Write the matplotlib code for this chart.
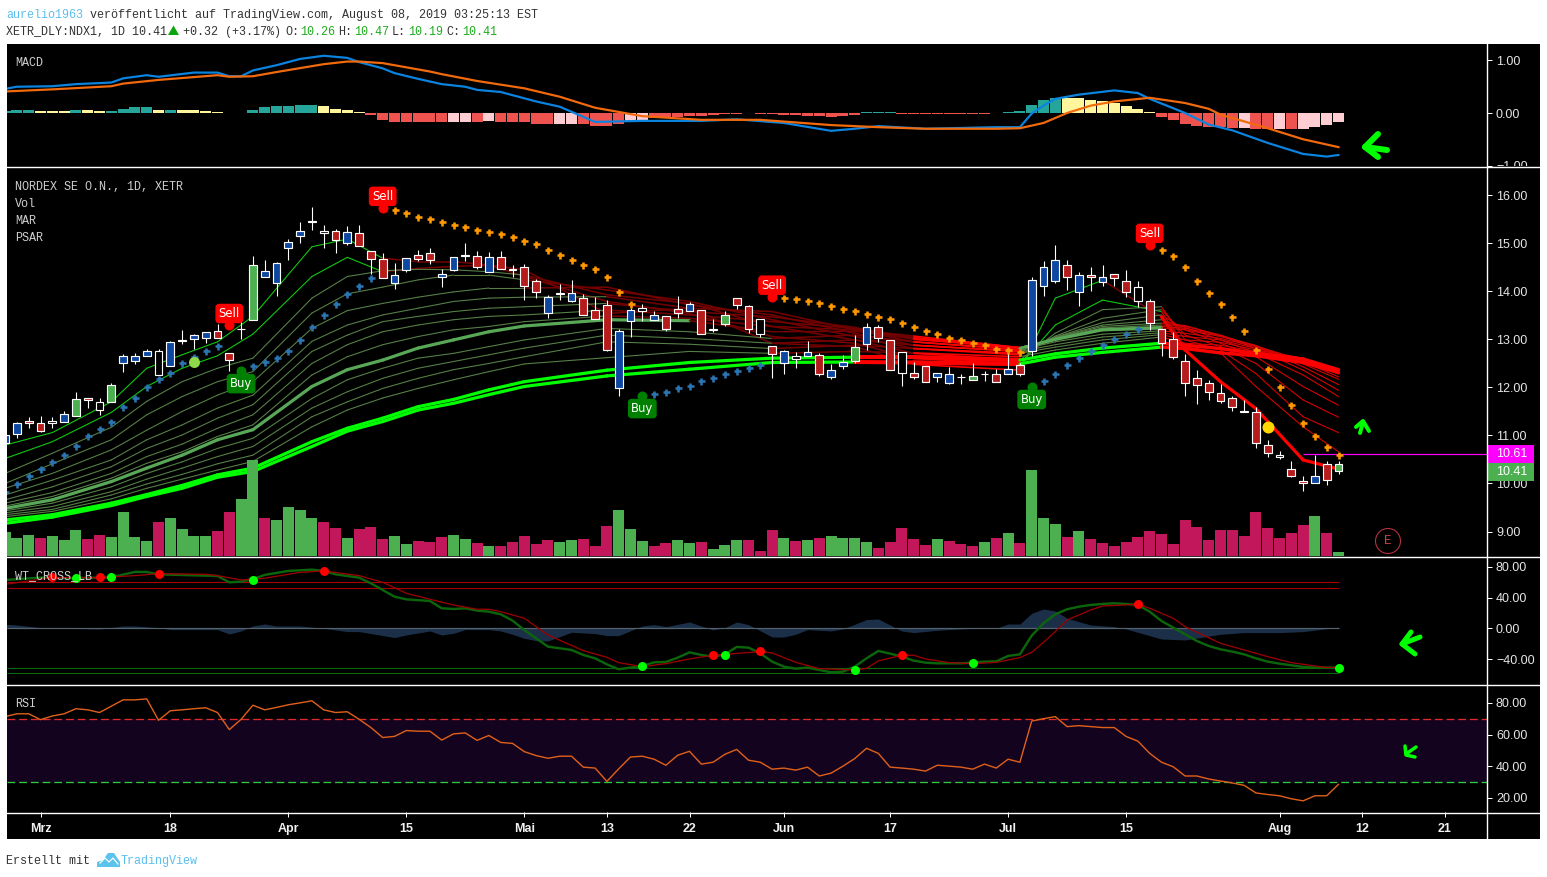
import numpy as np
import matplotlib
matplotlib.use('Agg')
import matplotlib.pyplot as plt
from matplotlib.patches import Circle, Polygon, Rectangle
from matplotlib.transforms import Bbox

W, H = 1547, 877

# first bar on the chart is index -3, "Mrz" tick is index 0
bars = list(range(-3, 111))

candle_top = [11.02,11.25,11.31,11.27,11.31,11.44,11.75,11.79,11.69,12.06,
              12.65,12.65,12.75,12.75,12.94,12.99,13.09,13.15,13.17,12.71,
              13.22,14.56,14.42,14.59,15.02,15.25,15.46,15.25,15.25,15.23,
              15.21,14.84,14.67,14.34,14.69,14.75,14.81,14.36,14.71,14.75,
              14.73,14.71,14.71,14.46,14.50,14.21,13.88,13.97,13.96,13.86,
              13.61,13.71,13.17,13.61,13.65,13.50,13.48,13.63,13.73,13.61,
              13.21,13.50,13.86,13.69,13.42,12.86,12.75,12.65,12.73,12.67,
              12.36,12.54,12.84,13.25,13.25,12.98,12.73,12.31,12.44,12.31,
              12.27,12.22,12.23,12.29,12.29,12.38,12.46,14.23,14.50,14.65,
              14.54,14.34,14.34,14.29,14.36,14.21,14.09,13.79,13.21,13.00,
              12.56,12.19,12.09,11.88,11.77,11.50,11.48,10.81,10.59,10.31,
              10.06,10.15,10.40,10.40]
candle_bot = [10.85,11.04,11.25,11.10,11.25,11.29,11.41,11.73,11.54,11.69,
              12.50,12.56,12.65,12.25,12.45,12.97,13.00,13.04,13.04,12.58,
              13.21,13.40,14.31,14.18,14.91,15.16,15.45,15.21,15.08,15.00,
              14.94,14.67,14.27,14.17,14.45,14.68,14.66,14.29,14.45,14.74,
              14.50,14.41,14.46,14.44,14.12,13.99,13.56,13.95,13.79,13.50,
              13.43,12.79,11.99,13.39,13.60,13.41,13.22,13.56,13.60,13.12,
              13.19,13.33,13.72,13.22,13.12,12.70,12.50,12.60,12.66,12.27,
              12.22,12.45,12.56,12.91,13.04,12.36,12.31,12.22,12.12,12.21,
              12.10,12.21,12.16,12.27,12.12,12.29,12.27,12.75,14.12,14.22,
              14.29,13.99,14.29,14.20,14.27,13.99,13.81,13.35,12.93,12.64,
              12.10,12.06,11.91,11.72,11.60,11.48,10.85,10.64,10.56,10.16,
              10.02,10.00,10.08,10.25]
wick_hi = [11.04,11.28,11.39,11.40,11.39,11.50,11.91,11.79,11.77,12.09,
           12.70,12.72,12.80,12.80,12.96,13.20,13.11,13.15,13.32,12.71,
           13.63,14.74,14.66,14.61,15.09,15.45,15.76,15.38,15.29,15.36,
           15.38,14.84,14.79,14.59,14.69,14.86,14.90,14.47,14.71,15.01,
           14.84,14.82,14.84,14.56,14.57,14.26,13.93,14.15,14.24,13.94,
           13.88,13.82,13.22,13.65,13.73,13.59,13.48,13.91,13.77,13.61,
           13.43,13.59,13.86,13.72,13.42,12.86,12.78,12.74,12.97,12.72,
           12.49,12.67,13.09,13.34,13.31,12.98,12.73,12.53,12.44,12.31,
           12.43,12.28,12.51,12.34,12.38,12.72,12.50,14.30,14.63,14.97,
           14.66,14.40,14.51,14.55,14.36,14.45,14.22,13.84,13.21,13.15,
           12.70,12.36,12.15,12.07,11.82,11.74,11.59,10.90,10.68,10.47,
           10.15,10.59,10.47,10.47]
wick_lo = [10.77,10.95,11.16,11.07,11.16,11.29,11.41,11.57,11.43,11.69,
           12.32,12.49,12.65,12.25,12.45,12.91,12.80,12.93,13.04,12.35,
           13.00,13.40,14.29,13.91,14.66,15.00,15.28,14.91,14.81,14.97,
           14.94,14.36,14.27,14.06,14.41,14.64,14.58,14.10,14.43,14.63,
           14.47,14.41,14.46,14.29,13.83,13.86,13.45,13.83,13.77,13.50,
           13.43,12.76,11.83,13.06,13.39,13.41,13.17,13.45,13.60,13.12,
           13.16,13.29,13.63,13.14,13.06,12.20,12.28,12.40,12.66,12.24,
           12.18,12.38,12.50,12.79,12.95,12.36,12.03,12.18,12.12,12.11,
           12.07,12.07,12.16,12.13,12.12,12.29,12.24,12.66,13.90,14.18,
           14.03,13.70,14.01,14.11,14.11,13.88,13.68,13.20,12.66,12.60,
           11.82,11.66,11.74,11.68,11.51,11.48,10.74,10.56,10.52,10.14,
           9.84,10.00,9.97,10.20]
candle_colour = ('bbrrkbgrkg' 'bbbkbkbbrr' 'kgbbbbkkrb' 'rrrbbrrbbk' 'rbrkrrbkbr'
                 'rrbbkbrrbr' 'kgrrkrbkbr' 'bbgbrrkrrb' 'bkgkrbrbbb' 'rbrbrrkrrr'
                 'rrrrrkrrkr' 'rbrg')

volume = [24,18,21,18,20,16,26,17,21,19,44,19,15,34,38,27,20,20,25,44,57,96,
          38,36,49,46,38,34,28,18,27,29,17,20,12,15,14,19,21,17,13,10,10,14,
          20,12,16,14,16,17,10,30,46,27,15,10,13,16,13,14,7,11,16,16,5,26,18,
          15,16,18,20,18,18,14,8,14,28,17,11,17,15,12,10,14,18,23,13,86,38,32,
          19,25,17,13,10,14,19,25,22,12,36,29,16,26,26,20,44,28,18,23,31,40,23,4]
volume_colour = ('gggrgggrrg' 'gggrggggrr' 'ggrggggrrg' 'rrrggrrrgg' 'rgrrrrrggr'
                 'rrgggrrggr' 'gggrrrgrgr' 'ggggrrrrrg' 'rrrgrgrggg' 'rgrrrrrrrr'
                 'rrrrrrrrrr' 'rgrg')

# moving average ribbon, read at these bars only
ma_bars = [-3,1,6,9,12,15,18,23,26,29,32,35,38,41,48,55,62,69,74,83,86,90,95,97,100,103,107,110]
ma01 = [10.80,11.06,11.70,12.40,12.68,12.95,13.48,14.93,15.09,14.69,14.62,14.62,14.55,14.45,13.54,13.65,12.92,12.85,12.48,12.36,13.86,14.23,13.47,12.78,12.12,11.56,10.49,10.30]
ma02 = [10.52,10.87,11.48,12.02,12.40,12.66,13.11,14.31,14.71,14.41,14.48,14.52,14.55,14.31,13.79,13.54,13.06,12.92,12.61,12.47,13.30,13.82,13.58,12.85,12.72,12.02,11.18,10.66]
ma03 = [10.21,10.63,11.17,11.71,12.12,12.40,12.61,13.86,14.31,14.43,14.46,14.45,14.41,14.34,13.93,13.75,13.27,12.99,12.71,12.57,13.13,13.62,13.68,12.99,12.78,12.29,11.39,11.06]
ma04 = [10.00,10.41,10.91,11.43,11.81,12.12,12.33,13.55,13.95,14.09,14.24,14.34,14.34,14.24,14.03,13.79,13.41,13.06,12.81,12.68,13.07,13.44,13.62,13.09,12.85,12.50,11.74,11.38]
ma05 = [9.90,10.21,10.70,11.11,11.50,11.84,12.12,13.23,13.60,13.75,13.88,13.99,14.07,14.07,14.09,13.72,13.51,13.13,12.88,12.75,13.05,13.35,13.51,13.20,12.92,12.64,12.02,11.63]
ma06 = [9.76,10.07,10.49,10.91,11.22,11.57,11.84,12.96,13.30,13.51,13.65,13.79,13.86,13.88,13.89,13.65,13.58,13.20,12.95,12.79,13.04,13.30,13.41,13.25,12.99,12.72,12.26,11.81]
ma07 = [9.66,9.93,10.35,10.73,11.01,11.36,11.64,12.75,13.09,13.37,13.48,13.58,13.65,13.68,13.75,13.58,13.47,13.25,13.00,12.83,13.03,13.27,13.34,13.29,13.08,12.81,12.36,11.94]
ma08 = [9.59,9.81,10.21,10.56,10.82,11.15,11.43,12.50,12.89,13.16,13.30,13.41,13.48,13.51,13.61,13.51,13.37,13.23,13.04,12.83,13.02,13.24,13.30,13.27,13.09,12.85,12.43,12.06]
ma09 = [9.53,9.73,10.11,10.42,10.66,10.98,11.22,12.26,12.64,12.89,13.06,13.20,13.27,13.37,13.49,13.44,13.27,13.20,13.07,12.83,13.02,13.22,13.27,13.23,13.08,12.87,12.49,12.17]
ma10 = [9.48,9.66,10.04,10.32,10.59,10.91,11.12,12.02,12.37,12.57,12.82,12.99,13.16,13.28,13.41,13.39,13.16,13.17,13.02,12.81,13.00,13.20,13.24,13.20,13.06,12.87,12.54,12.22]
ma11 = [9.43,9.59,9.93,10.21,10.45,10.73,10.94,11.77,12.16,12.40,12.61,12.71,12.85,12.99,13.23,13.16,13.02,13.09,12.95,12.78,12.95,13.11,13.18,13.13,13.02,12.85,12.57,12.28]
ma12 = [9.39,9.52,9.83,10.09,10.32,10.56,10.77,11.57,11.91,12.19,12.40,12.54,12.68,12.82,13.09,13.02,12.92,12.99,12.88,12.75,12.89,13.05,13.14,13.06,12.99,12.81,12.59,12.32]
ma13 = [9.35,9.46,9.76,9.99,10.19,10.41,10.59,11.39,11.70,11.98,12.19,12.37,12.50,12.64,12.95,12.90,12.81,12.88,12.81,12.71,12.84,12.99,13.10,12.99,12.94,12.78,12.61,12.36]
ma14 = [9.31,9.42,9.68,9.90,10.09,10.28,10.46,11.18,11.53,11.78,11.98,12.16,12.33,12.49,12.62,12.75,12.71,12.75,12.72,12.64,12.78,12.92,13.05,12.92,12.88,12.75,12.61,12.38]
ma15 = [9.24,9.35,9.59,9.77,9.96,10.18,10.32,10.87,11.15,11.36,11.60,11.75,11.95,12.12,12.36,12.52,12.61,12.63,12.63,12.57,12.70,12.82,12.92,12.88,12.81,12.71,12.59,12.37]
ma16 = [9.17,9.30,9.54,9.73,9.90,10.13,10.25,10.77,11.09,11.29,11.53,11.67,11.85,12.02,12.24,12.38,12.52,12.53,12.52,12.49,12.63,12.73,12.84,12.81,12.72,12.66,12.52,12.31]
ribbon = [ma01,ma02,ma03,ma04,ma05,ma06,ma07,ma08,ma09,ma10,ma11,ma12,ma13,ma14,ma15,ma16]

# parabolic sar
sar_up1 = [9.82,9.98,10.15,10.31,10.44,10.59,10.79,10.98,11.13,11.29,11.59,11.79,12.00,12.17,12.31,12.50,12.63,12.75,12.86]
sar_up2 = [12.44,12.52,12.61,12.75,12.98,13.25,13.50,13.73,13.94,14.11,14.27]
sar_dn1 = [15.69,15.63,15.56,15.50,15.44,15.38,15.34,15.27,15.23,15.19,15.13,15.06,14.98,14.86,14.75,14.65,14.54,14.46,14.29,13.98,13.73]
sar_up3 = [11.86,11.90,11.98,12.04,12.13,12.19,12.27,12.34,12.40,12.46]
sar_dn2 = [13.86,13.84,13.79,13.75,13.69,13.63,13.59,13.52,13.46,13.42,13.34,13.25,13.17,13.11,13.04,12.98,12.92,12.88,12.81,12.77,12.73]
sar_up4 = [12.13,12.29,12.46,12.61,12.75,12.88,13.00,13.12,13.22]
sar_dn3 = [14.86,14.73,14.50,14.21,13.96,13.73,13.46,13.17,12.79,12.38,12.00,11.63,11.27,10.98,10.75,10.59]

sell_bars = [16,29,62,94]
sell_price = [13.30,15.74,13.89,14.97]
buy_bars = [17,51,84]
buy_price = [12.34,11.82,12.01]

# macd
macd_bars = [-3,-2,1,3,6,7,9,10,13,15,16,17,18,20,22,24,26,27,29,30,32,34,36,37,39,42,44,47,51,56,59,63,67,69,71,75,81,83,84,85,86,88,91,93,94,97,99,101,104,107,109,110]
macd_line = [0.46,0.50,0.51,0.55,0.58,0.66,0.72,0.69,0.77,0.77,0.70,0.70,0.81,0.91,1.03,1.09,1.05,0.97,0.85,0.76,0.65,0.55,0.50,0.44,0.40,0.22,0.12,-0.17,-0.15,-0.15,-0.12,-0.19,-0.34,-0.30,-0.25,-0.30,-0.27,-0.27,-0.01,0.14,0.27,0.35,0.43,0.38,0.27,0.0,-0.22,-0.33,-0.57,-0.78,-0.83,-0.80]
signal_bars = [-3,1,6,7,10,15,16,18,20,24,26,27,29,33,34,37,41,44,47,51,56,61,67,71,75,81,83,85,87,89,91,94,97,99,100,104,107,110]
signal_line = [0.41,0.45,0.51,0.56,0.63,0.72,0.69,0.70,0.78,0.93,0.98,0.98,0.95,0.79,0.74,0.61,0.47,0.31,0.10,-0.06,-0.13,-0.13,-0.23,-0.27,-0.30,-0.30,-0.29,-0.19,0.0,0.14,0.22,0.29,0.19,0.08,-0.03,-0.29,-0.50,-0.65]
macd_hist = [0.04,0.06,0.06,0.04,0.04,0.04,0.06,0.06,0.04,0.04,0.08,0.11,0.11,0.06,0.06,0.06,0.06,0.04,0.02,0,0,
             0.06,0.11,0.13,0.14,0.16,0.16,0.14,0.08,0.06,0.01,-0.03,-0.13,-0.17,-0.17,-0.17,-0.17,-0.18,-0.18,-0.17,-0.17,
             -0.15,-0.17,-0.17,-0.18,-0.20,-0.20,-0.20,-0.20,-0.20,-0.25,-0.25,-0.20,-0.15,-0.15,-0.10,-0.10,-0.08,-0.06,-0.05,-0.03,
             -0.02,-0.01,0,-0.01,-0.02,-0.03,-0.04,-0.05,-0.06,-0.08,-0.06,-0.03,0.01,0.02,0.01,-0.01,-0.02,-0.02,-0.02,-0.02,-0.02,
             -0.02,-0.01,0,0.01,0.03,0.16,0.24,0.29,0.28,0.29,0.25,0.22,0.19,0.14,0.08,0.01,-0.07,-0.13,-0.20,-0.24,-0.26,-0.26,
             -0.28,-0.28,-0.30,-0.30,-0.30,-0.30,-0.30,-0.26,-0.22,-0.17]
hist_colour = ('tttyyytyyt' 'tttytyyyyy' 'yttttttyyy' 'yrrrrrrrpp' 'rprrrrrppr' 'rrrpprrrrr'
               'rrrrrrrrrr' 'rrrtttrrrr' 'rrrrrttttt' 'yyyyyyyyrr' 'rrrrrprrpr' 'pppp')

# wavetrend
wt1_bars = [-3,0,2,6,8,9,10,15,16,17,18,19,21,23,24,25,27,28,30,31,33,34,35,36,37,38] + list(range(39,111))
wt1 = [62.8,65.8,65,66.2,73.2,73.2,70,68,59.7,60.6,64,69.3,74.5,76.2,74.5,70.1,65.8,58.4,41.1,37.6,35.5,26,25.1,26,23,21.6,
       18.2,10,-2.2,-13,-23.8,-26,-28.1,-34.6,-39,-46.8,-53.2,-51,-48.9,-44.2,-43.7,-38.1,-31.2,-34.6,-36.8,-33.8,-24.2,-25.1,-32.5,
       -43.3,-49.8,-52.4,-51,-54.1,-57.1,-56.3,-49.8,-39,-29.4,-32.9,-36.8,-42,-44.6,-45.5,-45.5,-45.5,-44.6,-43.3,-42.9,-35.9,
       -33.8,-9.5,6.5,18.2,24.7,28.1,30.3,31.6,32.5,31.6,30.3,21.6,9.5,0.9,-7.8,-16.5,-22.9,-27.3,-30.3,-33.8,-39,-43.3,-45.9,-48,-50.2,-51,-51,-51]
wt2_bars = [-3,1,5,8,10,14,15,17,19,22,24,27,29,30,31,33,35,37,38,39,41,43,46,48,49,51,53,55,57,61,62,64,66,69,70,71,73,74,75,77,79,81,83,84,85,86,87,89,90,93,94,96,97,100,102,104,106,108,109,110]
wt2 = [57.1,65.8,65.8,68.4,71,70.1,68.4,62.8,65,72.7,74.5,68.4,59.7,52.8,45.5,37.7,30.3,24.7,24.7,21.6,13,-8.7,-29,-37.7,-44.6,-49.8,-45.9,-39.8,-35,-30.3,-32,-44.2,-52.4,-54.1,-52,-42.4,-35,-35,-39.8,-44.6,-45.9,-44.2,-38.1,-31.2,-18.2,-4.3,10.8,23.8,28.9,31.2,26,13,2.2,-19.5,-28.1,-36.8,-44.6,-48.9,-51,-50.6]
wt_diff_bars = [-3,-2,0,1,2,5,7,8,10,11,15,16,17,18,19,20,22,24,26,27,30,31,33,34,35,36,38,39,40,41,42,43,45,47,48,49,51,52,53,55,57,58,59,60,62,63,64,65,67,68,70,71,73,74,76,79,81,82,83,84,85,86,87,89,91,92,95,97,100,102,105,107,110]
wt_diff = [5.2,4.3,0.9,0,0,-0.9,3,3,0.9,-1.7,-1.7,-7.4,-3.5,3,5.6,3,3,0,-4.3,-4.3,-12,-8.7,-3.5,-8.7,-6.5,-1.7,-1.7,-3.5,-7.8,-13,-16,-16.5,-5.2,-6.9,-9.5,-9.5,3,4.8,2.2,8.2,-2.2,0.9,8.2,4.8,-11.3,-11.3,-7.8,-1.7,-3.5,-0.9,11.3,12.1,-3.5,-5.6,-2.6,0,0,5.6,5.6,19.5,25.1,22.5,13,4.3,2.2,-0.9,-13.9,-15.2,-7.8,-5.6,-5.6,-4.3,1.3]
wt_red_bars = [1,5,10,24,57,61,73,93]
wt_red_vals = [66,66,71,75,-35,-30,-35,31]
wt_green_bars = [3,6,18,51,58,69,79,110]
wt_green_vals = [65,66,63,-49,-35,-54.5,-45.5,-51]
wt_levels_red = [59.7,52]
wt_levels_green = [-52,-58.4]

rsi = [71.3,73.1,73.1,69.4,71.7,73.1,76.3,75.6,73.9,77.9,81.9,81.9,82.5,69.0,75.0,75.6,76.3,76.9,73.9,63.1,69.6,78.5,75.6,77.1,78.8,80.0,81.3,75.6,73.9,74.4,69.6,64.4,58.1,58.8,62.5,62.1,62.1,56.5,60.4,61.0,56.3,59.4,55.0,54.4,
       49.2,46.7,45.0,46.3,46.3,39.4,38.8,30.4,38.3,45.8,46.3,44.4,40.6,46.9,49.4,41.3,42.5,47.5,50.6,43.8,42.5,38.1,38.8,37.5,39.4,33.8,35.6,40.0,44.8,51.3,48.1,39.4,38.8,38.1,36.9,40.6,40.0,39.4,38.1,41.3,38.8,44.4,
       42.5,68.5,70,71.3,65,65.6,65,64.4,64.4,58.8,55.8,48.1,42.5,39.6,33.8,33.8,31.9,30.6,29.4,27.9,23.1,22.1,21.3,19.4,18.1,21.3,21.3,28.5]

time_ticks = [0,11,21,31,41,48,55,63,72,82,92,105,112,119]
time_labels = ['Mrz','18','Apr','15','Mai','13','22','Jun','17','Jul','15','Aug','12','21']

price_ticks = [9,10,11,12,13,14,15,16]
last_close = 10.41
sar_last = 10.61

# x scale of all panels, one bar is 11.8 px
x_left = (7 - 40.5) / 11.8
x_right = (1487 - 40.5) / 11.8

mono = 'Liberation Mono'
sans = 'Liberation Sans'
pt = 72.0 / 100  # one pixel in points at dpi 100

candle_fill = {'b': '#0d47a1', 'r': '#b71c1c', 'g': '#4caf50', 'k': '#000000'}
vol_fill = {'g': '#4caf50', 'r': '#c2185b'}
hist_fill = {'t': '#26a69a', 'y': '#fff59d', 'r': '#ef5350', 'p': '#ffcdd2'}
turn_maroon = [29,29,41,41,41,48,48,48,48,55,62,62,62,62,999,999]

fig = plt.figure(figsize=(W / 100, H / 100), dpi=100, facecolor='white')

bg = fig.add_axes([0, 0, 1, 1], zorder=-1)
bg.set_xlim(0, W)
bg.set_ylim(H, 0)
bg.axis('off')
bg.add_patch(Rectangle((7, 44), 1533, 795, color='black', lw=0))


def add_panel(y0, y1, ylim, ticks=None, labels=None):
    ax = fig.add_axes([7 / W, 1 - y1 / H, 1480 / W, (y1 - y0) / H])
    ax.patch.set_visible(False)
    ax.set_xlim(x_left, x_right)
    ax.set_ylim(*ylim)
    for s in ax.spines.values():
        s.set_visible(False)
    ax.set_xticks([])
    ax.yaxis.tick_right()
    if ticks is not None:
        ax.set_yticks(ticks)
        ax.set_yticklabels(labels, fontfamily=sans, fontsize=9, color='#e6e6e6')
        ax.tick_params(axis='y', length=5 * pt, width=pt, color='white', pad=4 * pt)
        clip = Bbox.from_extents(1487, H - y1, 1540, H - y0)
        for lab in ax.get_yticklabels():
            lab.set_clip_on(True)
            lab.set_clip_box(clip)
    else:
        ax.set_yticks([])
    return ax


# macd panel
ax_macd = add_panel(44, 166, (-(166 - 113) / 52.5, (113 - 44) / 52.5), [-1, 0, 1], ['\u22121.00', '0.00', '1.00'])
ax_macd.bar(bars, macd_hist, width=0.92, color=[hist_fill[c] for c in hist_colour], lw=0)
ax_macd.plot(macd_bars, macd_line, color='#0a84e0', lw=2.2 * pt)
ax_macd.plot(signal_bars, signal_line, color='#f26a0c', lw=2.2 * pt)

# main panel
ax = add_panel(168, 556, (8.49, 16.57), price_ticks, ['%.2f' % p for p in price_ticks])


def ribbon_style(n, start):
    if start >= 95:
        if n == 0:
            return '#ff0000', 3.2
        if n >= 14:
            return '#ff0000', 3.4
        return '#d80000', 1.1
    if start >= 83:
        if n == 0 and start >= 90:
            return '#7a0000', 1.5
        if n < 2:
            return '#10c810', 1.1
    elif start >= 74:
        if n >= 14:
            return '#ff0000', 4.5
        return '#ff0000', 1.6
    elif start >= 69 and n >= 14:
        return '#ff0000', 4.0
    elif start >= turn_maroon[n]:
        return '#720000', 1.6
    if n < 2:
        return '#10c810', 1.1
    if n == 9:
        return '#58a858', 3.2
    if n >= 14:
        return '#00ff00', 3.2
    return '#567f46', 1.1


for n, line in enumerate(ribbon):
    for k in range(len(ma_bars) - 1):
        col, lw = ribbon_style(n, ma_bars[k])
        ax.plot(ma_bars[k:k + 2], line[k:k + 2], color=col, lw=lw * pt, solid_capstyle='round', zorder=2)

ax.vlines(bars, wick_lo, wick_hi, color='white', lw=1.1 * pt, zorder=3)
ax.bar(bars, np.array(candle_top) - np.array(candle_bot), bottom=candle_bot, width=0.66,
       color=[candle_fill[c] for c in candle_colour], edgecolor='white', lw=1.15 * pt, zorder=4)

ax.hlines(sar_last, 107, x_right, color='#ff00ff', lw=1.2 * pt, zorder=5)

sar_blue = [(-3, sar_up1), (18, sar_up2), (52, sar_up3), (85, sar_up4)]
sar_orange = [(30, sar_dn1), (63, sar_dn2), (95, sar_dn3)]
for start, vals in sar_blue:
    ax.plot(range(start, start + len(vals)), vals, ls='none', marker='+', ms=7 * pt, mew=2.6 * pt, color='#2a74b0', zorder=5)
for start, vals in sar_orange:
    ax.plot(range(start, start + len(vals)), vals, ls='none', marker='+', ms=7 * pt, mew=2.6 * pt, color='#ff9800', zorder=5)

ax.plot(sell_bars, sell_price, ls='none', marker='o', ms=10 * pt, color='#ff0000', mew=0, zorder=6)
ax.plot(buy_bars, buy_price, ls='none', marker='o', ms=10 * pt, color='#008000', mew=0, zorder=6)
for b, p in zip(sell_bars, sell_price):
    ax.annotate('Sell', (b, p), xytext=(0, 5 * pt), textcoords='offset points', ha='center', va='bottom',
                fontsize=8.4, family='DejaVu Sans', color='white', zorder=7,
                bbox=dict(boxstyle='round,pad=0.22,rounding_size=0.25', fc='#ff0000', ec='#ff0000'),
                annotation_clip=False)
for b, p in zip(buy_bars, buy_price):
    ax.annotate('Buy', (b, p), xytext=(0, -6 * pt), textcoords='offset points', ha='center', va='top',
                fontsize=8.4, family='DejaVu Sans', color='white', zorder=7,
                bbox=dict(boxstyle='round,pad=0.22,rounding_size=0.25', fc='#008000', ec='#008000'),
                annotation_clip=False)
ax.plot([13], [12.52], ls='none', marker='o', ms=11 * pt, color='#8fd84a', mew=0, zorder=6)
ax.plot([104], [11.17], ls='none', marker='o', ms=12 * pt, color='#ffd600', mew=0, zorder=6)

# volume sits over the ribbon, own scale
ax_vol = add_panel(168, 556, (0, 388))
ax_vol.axis('off')
ax_vol.bar(bars, volume, width=0.92, color=[vol_fill[c] for c in volume_colour], lw=0)

# wavetrend panel
ax_wt = add_panel(557, 684, (-(684 - 628.3) / 0.77, (628.3 - 557) / 0.77), [-40, 0, 40, 80], ['\u221240.00', '0.00', '40.00', '80.00'])
ax_wt.fill_between(wt_diff_bars, wt_diff, 0, color='#1b3048', lw=0)
ax_wt.hlines(0, x_left, 110, color='#56626e', lw=1.2 * pt)
ax_wt.hlines(wt_levels_red, x_left, 110, color='#a80000', lw=1.1 * pt)
ax_wt.hlines(wt_levels_green, x_left, 110, color='#0a6a0a', lw=1.1 * pt)
ax_wt.plot(wt1_bars, wt1, color='#0b650b', lw=2.4 * pt)
ax_wt.plot(wt2_bars, wt2, color='#9c0000', lw=1.3 * pt)
ax_wt.plot(wt_red_bars, wt_red_vals, ls='none', marker='o', ms=9 * pt, color='#ff0000', mew=0)
ax_wt.plot(wt_green_bars, wt_green_vals, ls='none', marker='o', ms=9 * pt, color='#00ff00', mew=0)

# rsi panel
ax_rsi = add_panel(685, 812, (30 - (812 - 782) / 1.583, 70 + (718.7 - 685) / 1.583), [20, 40, 60, 80], ['20.00', '40.00', '60.00', '80.00'])
ax_rsi.axhspan(30, 70, color='#13031f', lw=0)
ax_rsi.axhline(70, color='#e02b2b', lw=1.3 * pt, dashes=(6, 3))
ax_rsi.axhline(30, color='#2ecc40', lw=1.3 * pt, dashes=(6, 3))
ax_rsi.plot(bars, rsi, color='#e0601a', lw=1.4 * pt)
ax_rsi.set_xticks(time_ticks)
ax_rsi.set_xticklabels(time_labels, fontfamily=sans, fontsize=9, color='#f0f0f0', fontweight='bold')
ax_rsi.tick_params(axis='x', length=5 * pt, width=pt, color='white', pad=6 * pt)

# overlay in pixel coordinates for frame, labels and hand drawn arrows
top = fig.add_axes([0, 0, 1, 1], zorder=20)
top.patch.set_visible(False)
top.set_xlim(0, W)
top.set_ylim(H, 0)
top.axis('off')

for y in [166.5, 556.5, 684.5, 812.5]:
    top.plot([7, 1540], [y, y], color='white', lw=1.4 * pt)
top.plot([1487, 1487], [44, 839], color='white', lw=1.4 * pt)


def label(x, y, s, color='#cfcfcf', size=8.5):
    top.text(x, y, s, family=mono, fontsize=size, color=color, va='center', ha='left')


label(6, 15, 'aurelio1963', '#5bbfee')
label(90, 15, 'ver\u00f6ffentlicht auf TradingView.com, August 08, 2019 03:25:13 EST', '#333333')
label(6, 32, 'XETR_DLY:NDX1, 1D 10.41', '#333333')
top.add_patch(Polygon([(168, 35), (179, 35), (173.5, 25.5)], color='#0aa50a', lw=0))
label(183, 32, '+0.32 (+3.17%)', '#333333')
for x, s in [(285, 'O:'), (338, 'H:'), (392, 'L:'), (446, 'C:')]:
    label(x, 32, s, '#333333')
for x, s in [(300, '10.26'), (354, '10.47'), (408, '10.19'), (462, '10.41')]:
    label(x, 32, s, '#1fab1f')

label(15, 63, 'MACD')
label(15, 187, 'NORDEX SE O.N., 1D, XETR')
label(15, 204, 'Vol')
label(15, 221, 'MAR')
label(15, 238, 'PSAR')
label(15, 576, 'WT_CROSS_LB')
label(15, 704, 'RSI')

label(6, 861, 'Erstellt mit', '#333333')
label(121, 861, 'TradingView', '#5bbfee')
top.add_patch(Polygon([(97, 867), (97, 862), (103, 860), (108, 853), (114, 853), (120, 862), (120, 867)], color='#5bc4ec', lw=0))
top.plot([100, 105, 109, 113, 118], [863, 858, 862, 858, 864], color='white', lw=1.2 * pt)

# price boxes on the right scale
top.add_patch(Rectangle((1488, 445), 46, 18, color='#ff00ff', lw=0))
top.add_patch(Rectangle((1488, 463), 46, 18, color='#4caf50', lw=0))
top.text(1496, 454, '%.2f' % sar_last, family=sans, fontsize=9, color='white', va='center')
top.text(1496, 472, '%.2f' % last_close, family=sans, fontsize=9, color='white', va='center')

top.add_patch(Circle((1388, 541), 12.5, fill=False, ec='#b5303f', lw=1.1 * pt))
top.text(1388, 541, 'E', family=mono, fontsize=9, color='#d0404a', va='center', ha='center')

arrows = [
    ([(1387, 150), (1365, 147)], [(1378, 134), (1365, 147), (1378, 157)], 6.0),
    ([(1360, 433), (1363, 422)], [(1356, 427), (1363, 421), (1369, 431)], 4.0),
    ([(1420, 637), (1402, 644)], [(1411, 632), (1402, 644), (1415, 654)], 5.0),
    ([(1416, 747), (1406, 754)], [(1405, 746), (1406, 755), (1415, 757)], 3.5),
]
for stem, head, lw in arrows:
    top.plot(*zip(*stem), color='#00ff00', lw=lw * pt, solid_capstyle='round')
    top.plot(*zip(*head), color='#00ff00', lw=lw * pt, solid_capstyle='round', solid_joinstyle='round')

fig.savefig('out.png', dpi=100, facecolor='white')
